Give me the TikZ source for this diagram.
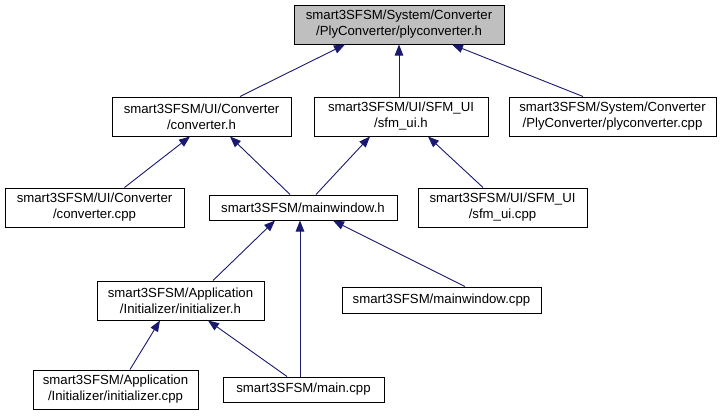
\documentclass[tikz,border=0pt]{standalone}
\usepackage{fontspec}
\setmainfont{Liberation Sans}
\usetikzlibrary{arrows.meta}
\definecolor{edgecol}{HTML}{191970}
\definecolor{topfill}{HTML}{BFBFBF}
\tikzset{
  filebox/.style={draw=black, line width=1pt, fill=white, inner sep=0pt, align=center,
    font=\fontsize{13.2}{16}\selectfont},
  dep/.style={draw=edgecol, line width=0.9pt, -{Triangle[length=11pt,width=8.5pt]}, color=edgecol},
}
\begin{document}
\begin{tikzpicture}[x=1pt,y=-1pt]
\useasboundingbox (0,0) rectangle (724,416);
\fill[white] (0,0) rectangle (724,416);
\node[filebox, fill=topfill, minimum width=210pt, minimum height=39pt] (top) at (399,24.5) {smart3SFSM/System/Converter\\/PlyConverter/plyconverter.h};
\node[filebox, minimum width=179pt, minimum height=39pt] (convh) at (201.5,116.5) {smart3SFSM/UI/Converter\\/converter.h};
\node[filebox, minimum width=174pt, minimum height=39pt] (sfmh) at (401,116.5) {smart3SFSM/UI/SFM\_UI\\/sfm\_ui.h};
\node[filebox, minimum width=207pt, minimum height=39pt] (plycpp) at (612.5,116.5) {smart3SFSM/System/Converter\\/PlyConverter/plyconverter.cpp};
\node[filebox, minimum width=179pt, minimum height=39pt] (convcpp) at (94.5,207.5) {smart3SFSM/UI/Converter\\/converter.cpp};
\node[filebox, minimum width=188pt, minimum height=25pt] (mwh) at (303,207.5) {smart3SFSM/mainwindow.h};
\node[filebox, minimum width=169pt, minimum height=39pt] (sfmcpp) at (502.5,207.5) {smart3SFSM/UI/SFM\_UI\\/sfm\_ui.cpp};
\node[filebox, minimum width=167pt, minimum height=39pt] (inith) at (180.5,300.5) {smart3SFSM/Application\\/Initializer/initializer.h};
\node[filebox, minimum width=199pt, minimum height=26pt] (mwcpp) at (441.5,300) {smart3SFSM/mainwindow.cpp};
\node[filebox, minimum width=165pt, minimum height=39pt] (initcpp) at (115.5,389.5) {smart3SFSM/Application\\/Initializer/initializer.cpp};
\node[filebox, minimum width=161pt, minimum height=25pt] (maincpp) at (303.5,389.5) {smart3SFSM/main.cpp};

\draw[dep] ([xshift=38.5pt]convh.north) -- ([xshift=-54pt]top.south);
\draw[dep] ([xshift=-2pt]sfmh.north) -- (top.south);
\draw[dep] ([xshift=-29.5pt]plycpp.north) -- ([xshift=53pt]top.south);
\draw[dep] ([xshift=30pt]convcpp.north) -- ([xshift=-11.5pt]convh.south);
\draw[dep] ([xshift=-13pt]mwh.north) -- ([xshift=28.5pt]convh.south);
\draw[dep] ([xshift=13pt]mwh.north) -- ([xshift=-31pt]sfmh.south);
\draw[dep] ([xshift=-19.5pt]sfmcpp.north) -- ([xshift=27pt]sfmh.south);
\draw[dep] ([xshift=32.5pt]inith.north) -- ([xshift=-28pt]mwh.south);
\draw[dep] ([xshift=-3.5pt]maincpp.north) -- ([xshift=-3pt]mwh.south);
\draw[dep] ([xshift=23.5pt]mwcpp.north) -- ([xshift=30pt]mwh.south);
\draw[dep] ([xshift=14.5pt]initcpp.north) -- ([xshift=-20.5pt]inith.south);
\draw[dep] ([xshift=-16.5pt]maincpp.north) -- ([xshift=27.5pt]inith.south);
\end{tikzpicture}
\end{document}
